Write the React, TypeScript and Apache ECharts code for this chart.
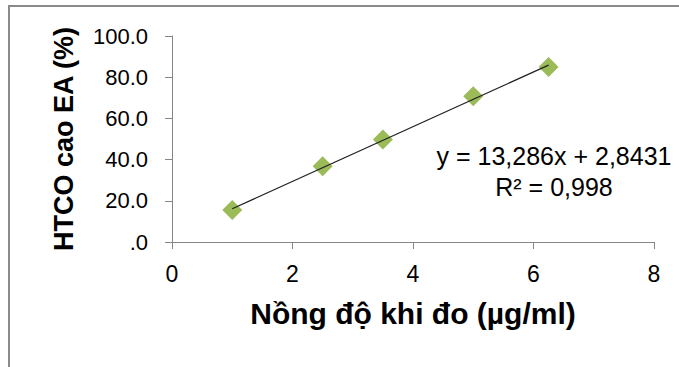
import React, { useEffect, useRef } from "react";
import * as echarts from "echarts";

const xValues = [1, 2.5, 3.5, 5, 6.25];
const yValues = [15.5, 36.8, 49.7, 70.7, 84.9];
const slope = 13.286;
const intercept = 2.8431;
const equationText = "y = 13,286x + 2,8431";
const r2Text = "R² = 0,998";
const xTitle = "Nồng độ khi đo (µg/ml)";
const yTitle = "HTCO cao EA (%)";

export default function App() {
  const ref = useRef<HTMLDivElement>(null);
  useEffect(() => {
    if (!ref.current) return;
    const chart = echarts.init(ref.current, null, { renderer: "svg" });
    const xMin = Math.min(...xValues);
    const xMax = Math.max(...xValues);
    const trend = [
      [xMin, slope * xMin + intercept],
      [xMax, slope * xMax + intercept],
    ];
    const axisGray = "#868686";
    chart.setOption({
      animation: false,
      backgroundColor: "#ffffff",
      grid: { left: 172, right: 25, top: 36, bottom: 125 },
      xAxis: {
        type: "value",
        min: 0,
        max: 8,
        interval: 2,
        name: xTitle,
        nameLocation: "middle",
        nameGap: 56,
        nameTextStyle: {
          fontFamily: "Liberation Sans, Arial, sans-serif",
          fontWeight: "bold",
          fontSize: 30,
          color: "#000",
        },
        axisLine: { show: true, lineStyle: { color: axisGray, width: 1 } },
        axisTick: { show: true, length: 7, inside: false, lineStyle: { color: axisGray } },
        splitLine: { show: false },
        axisLabel: {
          margin: 20,
          fontFamily: "Liberation Sans, Arial, sans-serif",
          fontSize: 23,
          color: "#000",
        },
      },
      yAxis: {
        type: "value",
        min: 0,
        max: 100,
        interval: 20,
        name: yTitle,
        nameLocation: "middle",
        nameGap: 95,
        nameRotate: 90,
        nameTextStyle: {
          fontFamily: "Liberation Sans, Arial, sans-serif",
          fontWeight: "bold",
          fontSize: 27,
          color: "#000",
        },
        axisLine: { show: true, lineStyle: { color: axisGray, width: 1 } },
        axisTick: { show: true, length: 7, inside: false, lineStyle: { color: axisGray } },
        splitLine: { show: false },
        axisLabel: {
          margin: 24,
          fontFamily: "Liberation Sans, Arial, sans-serif",
          fontSize: 22,
          color: "#000",
          formatter: (v: number) => (v === 0 ? ".0" : v.toFixed(1)),
        },
      },
      series: [
        {
          type: "line",
          data: trend,
          symbol: "none",
          lineStyle: { color: "#222", width: 1.2 },
          z: 3,
        },
        {
          type: "scatter",
          data: xValues.map((x, i) => [x, yValues[i]]),
          symbol: "diamond",
          symbolSize: 20,
          itemStyle: { color: "#9BBB59", opacity: 1 },
          z: 2,
        },
      ],
      graphic: [
        {
          type: "rect",
          shape: { x: 9, y: 6, width: 700, height: 400 },
          style: { fill: "none", stroke: "#8a8a8a", lineWidth: 2 },
          silent: true,
        },
        {
          type: "text",
          x: 554,
          y: 140,
          style: {
            text: equationText + "\n" + r2Text,
            fontFamily: "Liberation Sans, Arial, sans-serif",
            fontSize: 25,
            lineHeight: 31,
            align: "center",
            verticalAlign: "top",
            fill: "#000",
          },
        },
      ],
    });
    return () => chart.dispose();
  }, []);
  return (
    <div
      ref={ref}
      style={{ position: "absolute", left: 0, top: 0, width: 679, height: 367 }}
    />
  );
}
